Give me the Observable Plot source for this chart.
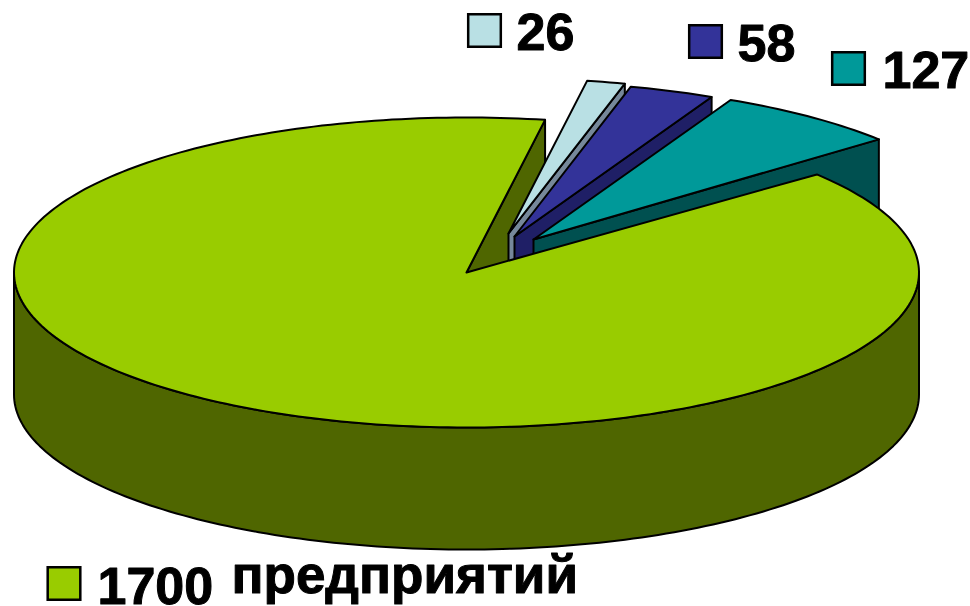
<!DOCTYPE html>
<html>
<head>
<meta charset="utf-8">
<script src="https://cdn.jsdelivr.net/npm/d3@7"></script>
<script src="https://cdn.jsdelivr.net/npm/@observablehq/plot@0.6"></script>
<style>html,body{margin:0;padding:0;background:#fff}svg{display:block}</style>
</head>
<body>
<div id="chart"></div>
<script>
// Data, clockwise from the first slice
const labels = ["26", "58", "127", "1700"];
const values = [26, 58, 127, 1700];
const unit = "предприятий";

// Styles
const topColors = ["#b9e0e4", "#333399", "#009999", "#99cc00"];
const wallColors = ["#76889a", "#1f1f66", "#005050", "#4f6600"];

// Pie projection settings (in chart units)
const startAngle = 10 * Math.PI / 180;
const mainGap = 1 * Math.PI / 180;
const rx = 452.5, ry = 155, depth = 122;
const centers = [[508, 233], [514, 236], [533, 239], [466, 272]];
const legendAt = [[484, 30], [705, 41], [848, 68], [63.5, 583]];
const labelAt = [[516, 49], [737, 60], [882, 87], [97, 603]];

// Slice angles come from the values
const total = d3.sum(values);
let acc = startAngle;
const slices = values.map((v, i) => {
  const a0 = acc; acc += v / total * 2 * Math.PI;
  return {i, a0, a1: acc, cx: centers[i][0], cy: centers[i][1]};
});

const at = (s, a, dz = 0) => ({x: s.cx + rx * Math.sin(a), y: s.cy - ry * Math.cos(a) + dz});
const arc = (s, a0, a1, dz = 0) => {
  const n = Math.max(2, Math.ceil(Math.abs(a1 - a0) / 0.02));
  return d3.range(n + 1).map(k => at(s, a0 + (a1 - a0) * k / n, dz));
};
const poly = (pts, fill) => Plot.line(pts, {
  x: "x", y: "y", fill, stroke: "#000", strokeWidth: 2,
  curve: "linear-closed", strokeLinejoin: "round"
});
const tip = (s, dz = 0) => ({x: s.cx, y: s.cy + dz});
const cutWall = (s, a) => [tip(s), at(s, a), at(s, a, depth), tip(s, depth)];

const main = slices[3];
const marks = [];

// Back cut face of the big slice
marks.push(poly(cutWall(main, main.a1), wallColors[3]));

// Exploded slices, back to front
for (const s of slices.slice(0, 3)) {
  marks.push(poly(cutWall(s, s.a1), wallColors[s.i]));
  marks.push(poly([tip(s), ...arc(s, s.a0, s.a1)], topColors[s.i]));
}

// Big slice: outer wall, then top surface
const front0 = Math.PI / 2, front1 = 3 * Math.PI / 2;
marks.push(poly([...arc(main, front0, front1), ...arc(main, front1, front0, depth)], wallColors[3]));
marks.push(poly([tip(main), ...arc(main, main.a0 + mainGap, main.a1)], topColors[3]));

// Legend
const legend = labels.map((label, i) => ({
  label, color: topColors[i], sx: legendAt[i][0], sy: legendAt[i][1], tx: labelAt[i][0], ty: labelAt[i][1]
}));
marks.push(Plot.dot(legend, {
  x: "sx", y: "sy", symbol: "square", r: 18.4, fill: d => d.color, stroke: "#000", strokeWidth: 2.5
}));
const textStyle = {
  fontFamily: "Liberation Sans", fontWeight: "bold", fontSize: 52, fill: "#000",
  stroke: "#000", strokeWidth: 1, textAnchor: "start", lineAnchor: "bottom"
};
marks.push(Plot.text(legend, {x: "tx", y: "ty", text: "label", ...textStyle}));
marks.push(Plot.text([unit], {
  x: () => 231, y: () => 592, text: d => d, ...textStyle, fontSize: 53
}));

const chart = Plot.plot({
  width: 970, height: 606, margin: 0,
  x: {domain: [0, 970], range: [0, 970], axis: null},
  y: {domain: [0, 606], range: [0, 606], axis: null},
  color: {type: "identity"},
  marks
});
document.getElementById("chart").append(chart);
</script>
</body>
</html>
